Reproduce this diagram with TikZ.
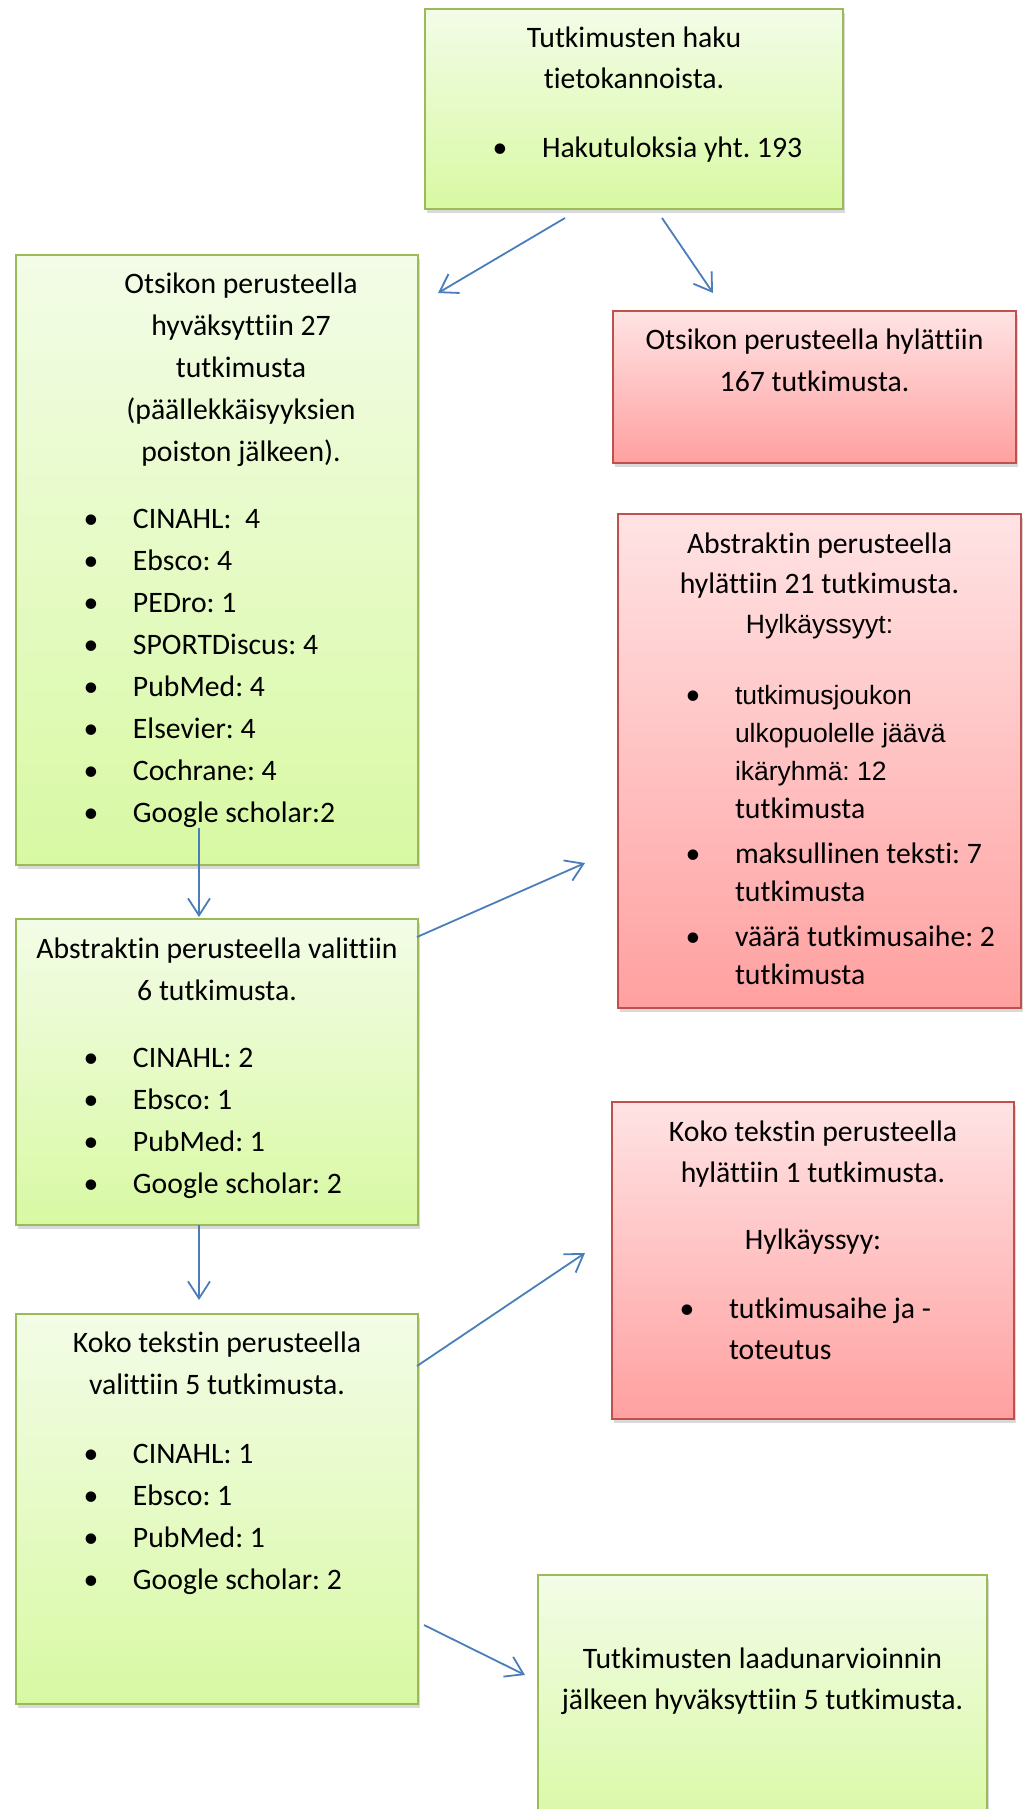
\documentclass[tikz,border=0pt]{standalone}
\usepackage{fontspec}
\setmainfont{Carlito}[Ligatures={NoCommon}]
\newfontfamily\arialfont{Liberation Sans}
\usetikzlibrary{arrows.meta, shadows}
\frenchspacing

\definecolor{okTop}{RGB}{243,252,231}
\definecolor{okBot}{RGB}{216,249,163}
\definecolor{okLine}{RGB}{155,187,89}
\definecolor{noTop}{RGB}{255,227,228}
\definecolor{noBot}{RGB}{255,160,160}
\definecolor{noLine}{RGB}{192,80,77}
\definecolor{flowBlue}{RGB}{74,126,187}

\newcommand{\cardtext}[4]{\parbox[t][#2pt][t]{#1pt}{\frenchspacing\fontsize{29.7}{#3}\selectfont#4}}
\newcommand{\bpt}[1]{\par\leftskip=0pt\rightskip=0pt plus 1fil\let\\\newline
  \noindent\hangindent=117pt\hangafter=1\makebox[117pt][l]{\hspace*{75pt}\makebox[0pt]{\textbullet}}#1}

\tikzset{
  okbox/.style={draw=okLine, line width=2pt, top color=okTop, bottom color=okBot,
    anchor=north west, inner sep=0pt,
    drop shadow={shadow xshift=2pt, shadow yshift=-4pt, opacity=0.3}},
  nobox/.style={draw=noLine, line width=2pt, top color=noTop, bottom color=noBot,
    anchor=north west, inner sep=0pt,
    drop shadow={shadow xshift=2pt, shadow yshift=-4pt, opacity=0.3}},
  flow/.style={draw=flowBlue, line width=1.8pt, -{Straight Barb[length=17pt, width=22pt]}}
}

\begin{document}
\begin{tikzpicture}[x=1pt, y=-1pt]

  \useasboundingbox (0, 0) rectangle (1023, 1809);

  \node [okbox] (search) at (424, 8) {\cardtext{418}{200}{41}{\centering
    \rule{0pt}{39pt}Tutkimusten haku\\ tietokannoista.\par\vspace{28pt}
    \bpt{Hakutuloksia yht. 193}}};

  \node [okbox] (titleOk) at (15, 254) {\cardtext{402}{610}{42}{\centering\leftskip=48pt plus 1fil
    \rule{0pt}{38pt}Otsikon perusteella\\ hyväksyttiin 27\\ tutkimusta\\ (päällekkäisyyksien\\ poiston jälkeen).\par\vspace{25pt}
    \bpt{CINAHL:~~4}\bpt{Ebsco: 4}\bpt{PEDro: 1}\bpt{SPORTDiscus: 4}
    \bpt{PubMed: 4}\bpt{Elsevier: 4}\bpt{Cochrane: 4}\bpt{Google scholar:2}}};

  \node [nobox] (titleNo) at (612, 310) {\cardtext{403}{152}{42}{\centering
    \rule{0pt}{38pt}Otsikon perusteella hylättiin\\ 167 tutkimusta.}};

  \node [nobox] (abstractNo) at (617, 513) {\cardtext{403}{494}{40}{\centering
    \rule{0pt}{39pt}Abstraktin perusteella\\ hylättiin 21 tutkimusta.\\ {\arialfont\fontsize{26.5}{40}\selectfont Hylkäyssyyt:}\par
    \vspace{33pt}\fontsize{29.7}{38}\selectfont
    \bpt{{\arialfont\fontsize{26.5}{38}\selectfont tutkimusjoukon\\ ulkopuolelle jäävä\\ ikäryhmä: 12}\\ tutkimusta}\par\vspace{7pt}
    \bpt{maksullinen teksti: 7\\ tutkimusta}\par\vspace{7pt}
    \bpt{väärä tutkimusaihe: 2\\ tutkimusta}}};

  \node [okbox] (abstractOk) at (15, 918) {\cardtext{402}{306}{42}{\centering
    \rule{0pt}{39pt}Abstraktin perusteella valittiin\\ 6 tutkimusta.\par\vspace{25pt}
    \bpt{CINAHL: 2}\bpt{Ebsco: 1}\bpt{PubMed: 1}\bpt{Google scholar: 2}}};

  \node [nobox] (fullNo) at (611, 1101) {\cardtext{402}{317}{41}{\centering
    \rule{0pt}{39pt}Koko tekstin perusteella\\ hylättiin 1 tutkimusta.\par\vspace{26pt}
    Hylkäyssyy:\par\vspace{28pt}
    \bpt{tutkimusaihe ja -\\ toteutus}}};

  \node [okbox] (fullOk) at (15, 1313) {\cardtext{402}{390}{42}{\centering
    \rule{0pt}{38pt}Koko tekstin perusteella\\ valittiin 5 tutkimusta.\par\vspace{27pt}
    \bpt{CINAHL: 1}\bpt{Ebsco: 1}\bpt{PubMed: 1}\bpt{Google scholar: 2}}};

  \node [okbox] (quality) at (537, 1574) {\cardtext{449}{260}{41}{\centering
    \rule{0pt}{93pt}Tutkimusten laadunarvioinnin\\ jälkeen hyväksyttiin 5 tutkimusta.}};

  \coordinate (s1) at (565, 218);
  \coordinate (e1) at (438, 293);
  \coordinate (s2) at (662, 218);
  \coordinate (e2) at (713, 293);
  \coordinate (s3) at (199, 828);
  \coordinate (e3) at (199, 917);
  \coordinate (s4) at (417, 937);
  \coordinate (e4) at (585, 863);
  \coordinate (s5) at (199, 1225);
  \coordinate (e5) at (199, 1300);
  \coordinate (s6) at (417, 1366);
  \coordinate (e6) at (585, 1253);
  \coordinate (s7) at (424, 1625);
  \coordinate (e7) at (525, 1675);

  \draw [flow] (s1) to (e1);
  \draw [flow] (s2) to (e2);
  \draw [flow] (s3) to (e3);
  \draw [flow] (s4) to (e4);
  \draw [flow] (s5) to (e5);
  \draw [flow] (s6) to (e6);
  \draw [flow] (s7) to (e7);

\end{tikzpicture}
\end{document}
